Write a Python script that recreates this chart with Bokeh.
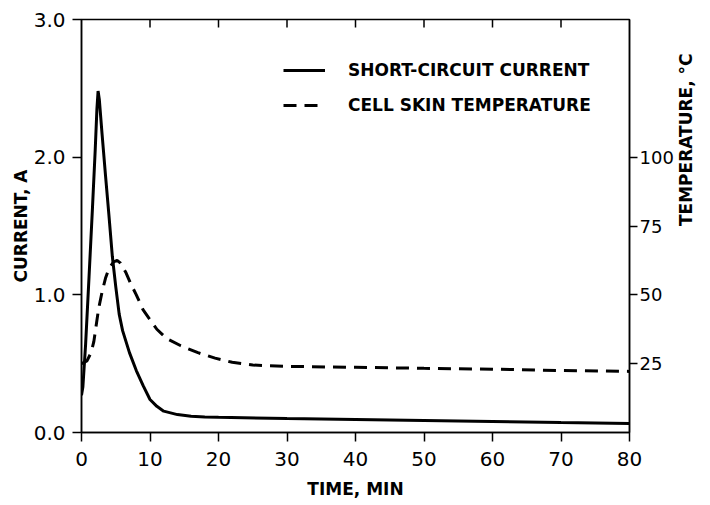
import math
from bokeh.plotting import figure
from bokeh.models import (Range1d, LinearAxis, FixedTicker, Legend, LegendItem)
from bokeh.embed import file_html
from bokeh.resources import INLINE

# ---- data ----
time_current = [0, 0.2, 0.6, 1.1, 1.6, 2.0, 2.25, 2.42, 2.6, 3.0, 3.5, 4.0, 4.5, 5.0, 5.5,
                6.0, 7.0, 8.0, 9.0, 10, 11, 12, 14, 16, 18, 20, 30, 40, 50, 60, 70, 80]
current_a = [0.27, 0.33, 0.64, 1.13, 1.63, 2.05, 2.35, 2.48, 2.42, 2.17, 1.87, 1.58, 1.28, 1.06, 0.86,
             0.74, 0.58, 0.45, 0.34, 0.24, 0.19, 0.155, 0.13, 0.118, 0.113, 0.11, 0.102, 0.095, 0.088,
             0.08, 0.072, 0.065]

time_temp = [0, 0.8, 1.4, 1.8, 2.5, 3.0, 3.5, 4.0, 4.7, 5.2, 5.7, 6.5, 7.2, 8.0, 9.0, 10, 11,
             12.5, 14.5, 17, 19.5, 22, 25, 30, 40, 50, 60, 70, 80]
temp_c = [25, 26, 29, 33, 45, 51, 56, 59.5, 62, 62.5, 61.5, 58, 54, 50, 44.5, 41, 37.5,
          34, 31.5, 29, 27, 25.5, 24.5, 24, 23.7, 23.3, 23, 22.5, 22.2]

x_ticks = [0, 10, 20, 30, 40, 50, 60, 70, 80]
current_ticks = [0, 1, 2, 3]
current_tick_labels = {0: "0.0", 1: "1.0", 2: "2.0", 3: "3.0"}
temp_ticks = [25, 50, 75, 100]

series_names = ["SHORT-CIRCUIT CURRENT", "CELL SKIN TEMPERATURE"]

FONT = "DejaVu Sans"
X_MAX, Y_MAX, T_MAX = 80, 3, 150

p = figure(width=710, height=505, output_backend="svg", toolbar_location=None,
           x_range=Range1d(0, X_MAX), y_range=Range1d(0, Y_MAX))
p.min_border_left = 81
p.min_border_right = 81
p.min_border_top = 19
p.min_border_bottom = 73
p.xgrid.visible = False
p.ygrid.visible = False
p.outline_line_color = "black"
p.outline_line_width = 1.5
p.background_fill_color = "white"
p.border_fill_color = "white"

p.extra_y_ranges = {"temp": Range1d(0, T_MAX)}

def style_axis(ax, tick_out):
    ax.axis_line_color = "black"
    ax.axis_line_width = 1.5
    ax.major_tick_line_color = "black"
    ax.major_tick_line_width = 1.5
    ax.major_tick_out = tick_out
    ax.major_tick_in = 0
    ax.minor_tick_line_color = None
    ax.major_label_text_font = FONT
    ax.major_label_text_font_size = "20px"
    ax.major_label_text_color = "black"
    ax.axis_label_text_font = FONT
    ax.axis_label_text_font_style = "bold"
    ax.axis_label_text_font_size = "17px"
    ax.axis_label_text_color = "black"

# bottom axis
xa = p.xaxis[0]
xa.ticker = FixedTicker(ticks=x_ticks)
style_axis(xa, 9)
xa.major_label_standoff = 10
xa.axis_label = "TIME, MIN"
xa.axis_label_standoff = 10

# left axis
ya = p.yaxis[0]
ya.ticker = FixedTicker(ticks=current_ticks)
ya.major_label_overrides = current_tick_labels
style_axis(ya, 9)
ya.major_label_standoff = 7
ya.axis_label = "CURRENT, A"
ya.axis_label_standoff = 0

# right axis (temperature), title reading bottom to top
ra = LinearAxis(y_range_name="temp", ticker=FixedTicker(ticks=temp_ticks))
style_axis(ra, 8)
ra.major_label_text_font_size = "18px"
ra.major_label_standoff = 2
ra.axis_label = "TEMPERATURE, °C"
ra.axis_label_standoff = 9
try:
    ra.axis_label_orientation = math.pi / 2
except Exception:
    pass
p.add_layout(ra, "right")

# inward ticks along the top border
top_tick_len = Y_MAX * 8 / 413.0
p.segment(x0=x_ticks[1:-1], y0=[Y_MAX] * (len(x_ticks) - 2),
          x1=x_ticks[1:-1], y1=[Y_MAX - top_tick_len] * (len(x_ticks) - 2),
          line_color="black", line_width=1.5)

r1 = p.line(time_current, current_a, line_color="black", line_width=3)
r2 = p.line(time_temp, temp_c, y_range_name="temp", line_color="black", line_width=3,
            line_dash="13 8")

legend = Legend(items=[LegendItem(label=series_names[0], renderers=[r1]),
                       LegendItem(label=series_names[1], renderers=[r2])],
                location=(202, 317))
legend.padding = 0
legend.margin = 0
legend.spacing = 15
legend.glyph_width = 42
legend.glyph_height = 20
legend.label_height = 20
legend.label_standoff = 23
legend.border_line_alpha = 0
legend.background_fill_alpha = 0
legend.label_text_font = FONT
legend.label_text_font_style = "bold"
legend.label_text_font_size = "17px"
legend.label_text_color = "black"
p.add_layout(legend, "center")

open("out.html", "w").write(file_html(p, INLINE))
